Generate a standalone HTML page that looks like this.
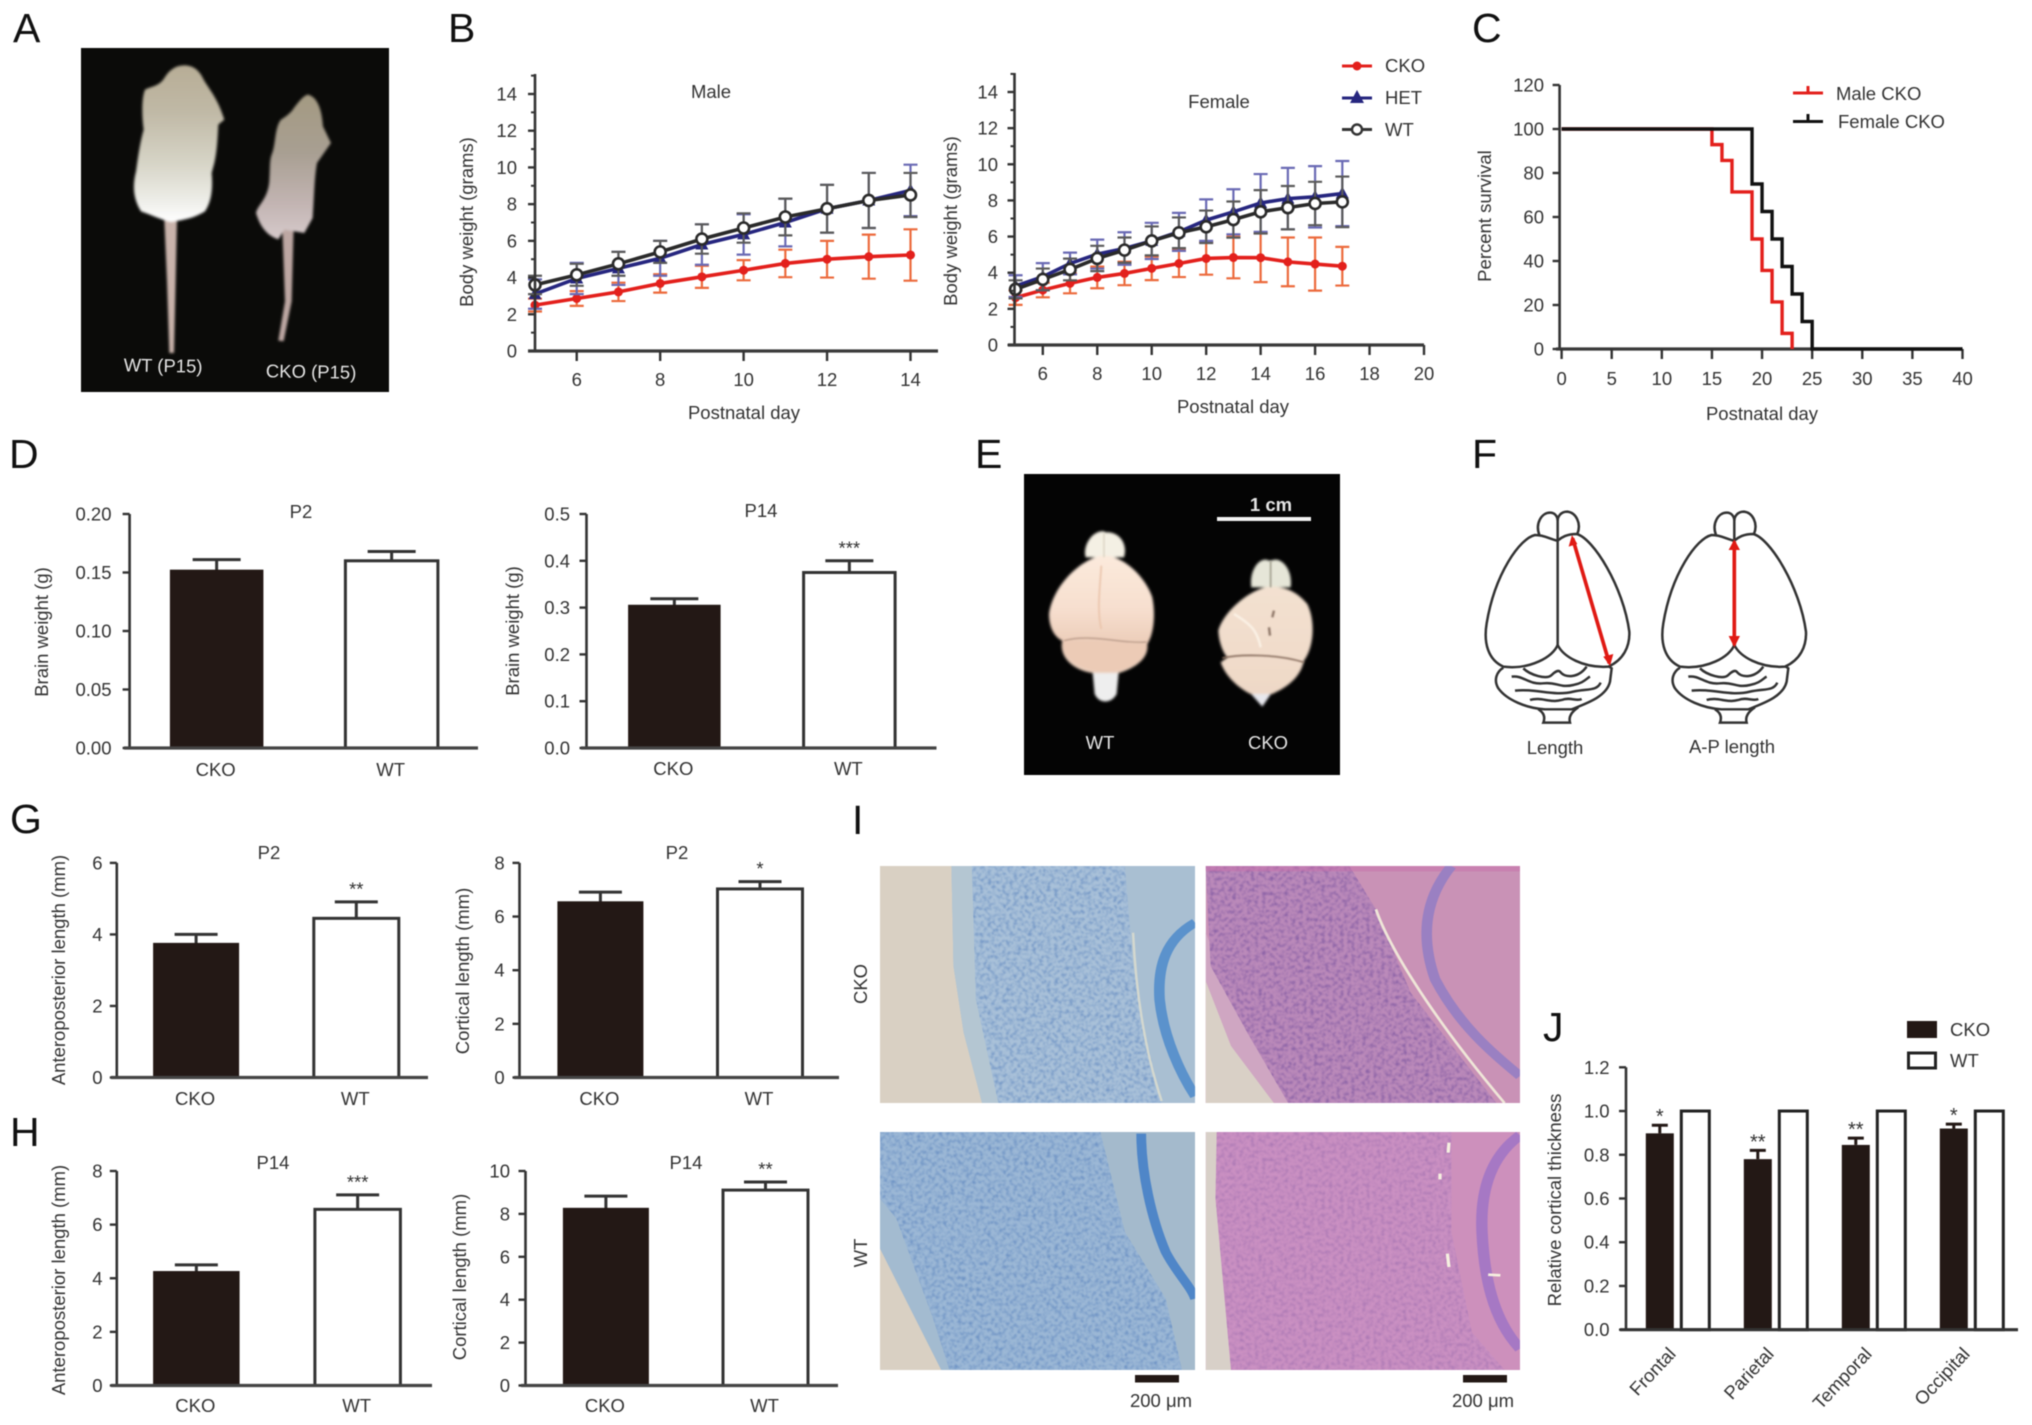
<!DOCTYPE html>
<html lang="en">
<head>
<meta charset="utf-8">
<title>Figure: CKO vs WT mouse phenotype panels</title>
<style>
html,body{margin:0;padding:0;background:#fff;width:2032px;height:1425px;overflow:hidden}
svg{display:block;filter:blur(.6px)}
text{font-family:"Liberation Sans",sans-serif;fill:#333;font-size:18.5px}
.panel{font-size:41px;fill:#111}
.photo-text{fill:#e4e4e4;font-size:18.5px;font-weight:bold}
.photo-thin{fill:#e4e4e4;font-size:18.5px}
</style>
</head>
<body>
<svg id="figure" xmlns="http://www.w3.org/2000/svg" width="2032" height="1425" viewBox="0 0 2032 1425">
<defs>
  <linearGradient id="wtFur" x1="0" y1="0" x2="0" y2="1"><stop offset="0" stop-color="#b7ad96"/><stop offset=".3" stop-color="#c0b9a6"/><stop offset=".62" stop-color="#d6d4c6"/><stop offset=".85" stop-color="#ecece6"/><stop offset="1" stop-color="#ffffff"/></linearGradient>
  <linearGradient id="ckoFur" x1="0" y1="0" x2="0" y2="1"><stop offset="0" stop-color="#a49a82"/><stop offset=".4" stop-color="#a89f92"/><stop offset=".75" stop-color="#c2b4b2"/><stop offset="1" stop-color="#d6cacb"/></linearGradient>
  <linearGradient id="brainWt" x1="0" y1="0" x2="0" y2="1"><stop offset="0" stop-color="#fbeadc"/><stop offset=".45" stop-color="#f7dfcf"/><stop offset=".75" stop-color="#eccdb9"/><stop offset="1" stop-color="#ecd2c0"/></linearGradient>
  <linearGradient id="brainCko" x1="0" y1="0" x2="0" y2="1"><stop offset="0" stop-color="#f3e1d0"/><stop offset=".6" stop-color="#f1dccb"/><stop offset="1" stop-color="#eed8c6"/></linearGradient>
  <filter id="soft" x="-10%" y="-10%" width="120%" height="120%"><feGaussianBlur stdDeviation="4"/></filter>
  <filter id="soft2" x="-10%" y="-10%" width="120%" height="120%"><feGaussianBlur stdDeviation="2.500"/></filter>
  <filter id="speckBlue" x="0" y="0" width="100%" height="100%" color-interpolation-filters="sRGB"><feTurbulence type="fractalNoise" baseFrequency="0.11 0.09" numOctaves="2" seed="7"/><feColorMatrix type="matrix" values="0 0 0 0 0.30  0 0 0 0 0.47  0 0 0 0 0.72  2.4 0 0 0 -1.02"/><feGaussianBlur stdDeviation="1.5"/></filter>
  <filter id="speckPink" x="0" y="0" width="100%" height="100%" color-interpolation-filters="sRGB"><feTurbulence type="fractalNoise" baseFrequency="0.11 0.09" numOctaves="2" seed="11"/><feColorMatrix type="matrix" values="0 0 0 0 0.42  0 0 0 0 0.28  0 0 0 0 0.60  2.4 0 0 0 -1.02"/><feGaussianBlur stdDeviation="1.5"/></filter>
  <clipPath id="clipTL"><rect x="0" y="0" width="772" height="711"/></clipPath>
  <clipPath id="clipTR"><rect x="798" y="0" width="770" height="711"/></clipPath>
  <clipPath id="clipBL"><rect x="0" y="0" width="772" height="714"/></clipPath>
  <clipPath id="clipBR"><rect x="798" y="0" width="770" height="714"/></clipPath>
  <clipPath id="cortexTL"><polygon points="225,0 600,0 620,300 650,500 690,711 290,711 235,400"/></clipPath>
  <clipPath id="cortexTR"><polygon points="798,0 1150,0 1215,130 1300,380 1510,711 1000,711 900,500 810,300"/></clipPath>
  <clipPath id="cortexBL"><polygon points="0,0 540,0 600,300 700,500 740,714 170,714 130,560 40,260 0,200"/></clipPath>
  <clipPath id="cortexBR"><polygon points="825,0 1400,0 1400,300 1450,600 1530,714 860,714 822,200"/></clipPath>
</defs>
<rect width="2032" height="1425" fill="#fff"/>

<!-- panel letters -->
<text class="panel" x="13" y="42">A</text>
<text class="panel" x="448" y="42">B</text>
<text class="panel" x="1472" y="42">C</text>
<text class="panel" x="9" y="468">D</text>
<text class="panel" x="975" y="468">E</text>
<text class="panel" x="1472" y="468">F</text>
<text class="panel" x="10" y="833">G</text>
<text class="panel" x="10" y="1146">H</text>
<text class="panel" x="852" y="834">I</text>
<text class="panel" x="1543" y="1041">J</text>

<!-- Panel A photo -->
<g>
  <rect x="81" y="48" width="308" height="344" fill="#0b0b09"/>
  <g transform="translate(81,48) scale(.3333)">
    <g filter="url(#soft)">
      <path d="M250,515 L288,515 L284,700 L279,915 L265,915 L258,700Z" fill="#c9b3ab"/>
      <path d="M310,52 C335,52 355,65 368,95 C385,125 410,150 430,215 L412,230 C410,270 408,310 400,345 L392,375 C396,420 392,460 372,490 C340,510 310,515 270,522 C240,515 210,500 180,490 C155,450 155,410 165,370 C172,320 178,280 188,245 C182,200 182,150 192,125 C210,115 235,115 250,90 C265,65 285,52 310,52Z" fill="url(#wtFur)"/>
      <path d="M604,540 L638,540 L632,760 L608,880 L592,878 L612,760Z" fill="#bda7a3"/>
      <path d="M680,140 C705,145 722,175 726,235 L750,285 L708,345 C700,390 700,440 695,510 L670,555 L610,545 L592,574 C565,565 540,545 525,495 C530,470 560,455 565,400 C568,360 565,340 572,320 C585,290 580,240 600,215 C615,205 630,195 640,178 C655,160 665,145 680,140Z" fill="url(#ckoFur)"/>
    </g>
  </g>
  <text class="photo-thin" x="163" y="372" text-anchor="middle" transform="rotate(1 163 372)">WT (P15)</text>
  <text class="photo-thin" x="311" y="378" text-anchor="middle" transform="rotate(1 311 378)">CKO (P15)</text>
</g>

<!-- Panel B static text -->
<text x="711" y="98" text-anchor="middle" font-size="18">Male</text>
<text x="473" y="222" text-anchor="middle" transform="rotate(-90 473 222)">Body weight (grams)</text>
<text x="744" y="419" text-anchor="middle">Postnatal day</text>
<text x="1219" y="108" text-anchor="middle">Female</text>
<text x="957" y="221" text-anchor="middle" transform="rotate(-90 957 221)">Body weight (grams)</text>
<text x="1233" y="413" text-anchor="middle">Postnatal day</text>
<g>
  <g>
    <line x1="1342" y1="66" x2="1372" y2="66" stroke="#e3201c" stroke-width="3"/>
    <circle cx="1357" cy="66" r="4.5" fill="#e3201c"/>
    <text x="1385" y="72">CKO</text>
  </g>
  <g>
    <line x1="1342" y1="98" x2="1372" y2="98" stroke="#26267f" stroke-width="3"/>
    <polygon points="1357,90 1364,103 1350,103" fill="#26267f"/>
    <text x="1385" y="104">HET</text>
  </g>
  <g>
    <line x1="1342" y1="129.500" x2="1372" y2="129.500" stroke="#333" stroke-width="3"/>
    <circle cx="1357" cy="129.500" r="5" fill="#fff" stroke="#333" stroke-width="2.4"/>
    <text x="1385" y="136">WT</text>
  </g>
</g>

<!-- Panel C static text -->
<text x="1491" y="216" text-anchor="middle" transform="rotate(-90 1491 216)">Percent survival</text>
<text x="1762" y="420" text-anchor="middle">Postnatal day</text>
<g>
  <path d="M1793,93 H1823 M1808,93 V86" stroke="#e3201c" stroke-width="3" fill="none"/>
  <text x="1836" y="100">Male CKO</text>
  <path d="M1793,121.500 H1823 M1808,121.500 V114" stroke="#111" stroke-width="3" fill="none"/>
  <text x="1838" y="128">Female CKO</text>
</g>

<!-- Panel D static text -->
<text x="301" y="518" text-anchor="middle">P2</text>
<text x="48" y="632" text-anchor="middle" transform="rotate(-90 48 632)">Brain weight (g)</text>
<text x="761" y="517" text-anchor="middle">P14</text>
<text x="519" y="631" text-anchor="middle" transform="rotate(-90 519 631)">Brain weight (g)</text>

<!-- Panel E photo -->
<g>
  <rect x="1024" y="474" width="316" height="301" fill="#040404"/>
  <g transform="translate(1024,474) scale(.3333)">
    <g filter="url(#soft)">
      <path d="M205,585 L212,660 C225,690 262,690 278,660 L285,585Z" fill="#eeeeee"/>
      <path d="M240,172 C205,168 175,215 185,250 L300,250 C312,215 290,172 245,175Z" fill="#f4f0e4"/>
      <path d="M240,245 C190,245 90,320 75,420 C75,470 100,495 115,500 C105,540 135,585 205,597 L285,597 C340,580 375,550 370,510 C390,480 395,420 385,370 C365,310 300,245 240,245Z" fill="url(#brainWt)"/>
      <path d="M115,505 C200,490 290,510 370,510 C365,560 320,590 250,595 C180,595 120,560 115,505Z" fill="#eccbb6"/>
      <path d="M672,650 L715,698 L748,650Z" fill="#e8e8ee"/>
      <path d="M735,260 C710,245 675,285 682,340 L800,340 C808,285 770,245 742,260Z" fill="#e6e6d8"/>
      <path d="M735,338 C680,345 600,410 583,470 C585,510 600,540 610,550 L590,565 C610,620 660,650 680,660 L745,660 C790,640 830,610 840,560 C870,520 875,440 850,390 C820,355 790,338 735,338Z" fill="url(#brainCko)"/>
    </g>
    <g filter="url(#soft2)" fill="none">
      <path d="M232,275 C228,340 218,410 232,465" stroke="#eac4ab" stroke-width="5"/>
      <path d="M240,178 L240,250" stroke="#d8d2c0" stroke-width="4"/>
      <path d="M120,500 C200,478 290,510 368,504" stroke="#b89a88" stroke-width="4"/>
      <path d="M740,262 L740,340" stroke="#a09c8c" stroke-width="5"/>
      <path d="M595,552 C650,540 760,540 840,565" stroke="#8a7060" stroke-width="5"/>
      <path d="M750,410 L745,430 M735,460 L738,485" stroke="#8c7466" stroke-width="7"/>
      <path d="M630,420 C680,450 700,470 710,520" stroke="#fbf2e6" stroke-width="7"/>
    </g>
  </g>
  <line x1="1217" y1="519" x2="1311" y2="519" stroke="#f2f2f2" stroke-width="4"/>
  <text class="photo-text" x="1271" y="511" text-anchor="middle">1 cm</text>
  <text class="photo-thin" x="1100" y="749" text-anchor="middle">WT</text>
  <text class="photo-thin" x="1268" y="749" text-anchor="middle">CKO</text>
</g>

<!-- Panel F schematics -->
<g transform="translate(1470,500) scale(.3333)" fill="none" stroke="#333" stroke-width="7.500">
  <g>
    <path d="M208,105 C195,70 215,38 240,38 C255,38 263,50 263,62 C263,50 272,35 292,35 C318,38 335,70 322,102"/>
    <path d="M263,50 L263,435"/>
    <path d="M263,122 C240,118 225,105 195,105 C150,115 75,220 50,370 C40,430 55,480 100,500 C180,510 250,470 263,435"/>
    <path d="M263,122 C275,112 290,102 320,102 C370,115 460,260 478,395 C480,440 460,480 415,500 C340,505 280,470 263,435"/>
    <path d="M100,503 C80,515 70,540 85,565 C110,600 170,625 225,628 L305,628 C350,610 410,590 420,545 L425,505 L415,498"/>
    <path d="M160,505 C180,525 230,540 245,525 C255,515 265,510 270,515 C285,535 325,535 350,500"/>
    <path d="M125,530 C160,525 175,555 220,550 C260,545 270,565 310,555 C340,550 350,535 360,530 M135,572 C200,565 250,590 310,575 C350,565 380,575 392,548 M180,600 C215,590 240,610 275,600 C300,590 320,605 335,597"/>
    <path d="M205,628 C225,640 225,655 220,668 L300,668 C295,650 305,635 325,622"/>
  </g>
  <g transform="translate(530,0)">
    <path d="M208,105 C195,70 215,38 240,38 C255,38 263,50 263,62 C263,50 272,35 292,35 C318,38 335,70 322,102"/>
    <path d="M263,50 L263,122"/>
    <path d="M263,122 C240,118 225,105 195,105 C150,115 75,220 50,370 C40,430 55,480 100,500 C180,510 250,470 263,435"/>
    <path d="M263,122 C275,112 290,102 320,102 C370,115 460,260 478,395 C480,440 460,480 415,500 C340,505 280,470 263,435"/>
    <path d="M100,503 C80,515 70,540 85,565 C110,600 170,625 225,628 L305,628 C350,610 410,590 420,545 L425,505 L415,498"/>
    <path d="M160,505 C180,525 230,540 245,525 C255,515 265,510 270,515 C285,535 325,535 350,500"/>
    <path d="M125,530 C160,525 175,555 220,550 C260,545 270,565 310,555 C340,550 350,535 360,530 M135,572 C200,565 250,590 310,575 C350,565 380,575 392,548 M180,600 C215,590 240,610 275,600 C300,590 320,605 335,597"/>
    <path d="M205,628 C225,640 225,655 220,668 L300,668 C295,650 305,635 325,622"/>
  </g>
  <path d="M308,115 L418,490" stroke="#e01a14" stroke-width="11"/>
  <path d="M306,105 L296,140 L322,132Z M420,498 L400,470 L430,462Z" fill="#e01a14" stroke="none"/>
  <path d="M793,125 L793,435" stroke="#e01a14" stroke-width="11"/>
  <path d="M793,118 L776,150 L810,150Z M793,442 L776,408 L810,408Z" fill="#e01a14" stroke="none"/>
</g>
<text x="1555" y="754" text-anchor="middle">Length</text>
<text x="1732" y="753" text-anchor="middle">A-P length</text>

<!-- Panel G and H static text -->
<text x="269" y="859" text-anchor="middle">P2</text>
<text x="65" y="970" text-anchor="middle" transform="rotate(-90 65 970)">Anteroposterior length (mm)</text>
<text x="677" y="859" text-anchor="middle">P2</text>
<text x="469" y="971" text-anchor="middle" transform="rotate(-90 469 971)">Cortical length (mm)</text>
<text x="273" y="1169" text-anchor="middle">P14</text>
<text x="65" y="1280" text-anchor="middle" transform="rotate(-90 65 1280)">Anteroposterior length (mm)</text>
<text x="686" y="1169" text-anchor="middle">P14</text>
<text x="466" y="1277" text-anchor="middle" transform="rotate(-90 466 1277)">Cortical length (mm)</text>

<!-- Panel I histology -->
<g transform="translate(880,866) scale(.40816,.33333)">
  <g clip-path="url(#clipTL)">
    <rect x="0" y="0" width="772" height="711" fill="#a9bfd2"/>
    <polygon points="0,0 175,0 180,300 205,500 250,711 0,711" fill="#d9d0c3"/>
    <polygon points="175,0 225,0 235,400 290,711 250,711 205,500 180,300" fill="#b4c6d2"/>
    <polygon points="225,0 600,0 620,300 650,500 690,711 290,711 235,400" fill="#a9c1d9"/>
    <rect x="0" y="0" width="772" height="711" filter="url(#speckBlue)" clip-path="url(#cortexTL)" opacity=".6"/>
    <path d="M620,200 C625,330 640,520 690,705" stroke="#d4d8cf" stroke-width="6" fill="none"/>
    <path d="M772,170 C700,220 680,300 685,400 C695,520 740,630 772,690" stroke="#5b92cc" stroke-width="26" fill="none"/>
  </g>
  <g clip-path="url(#clipTR)">
    <rect x="798" y="0" width="770" height="711" fill="#c992b6"/>
    <polygon points="798,200 900,500 1050,711 798,711" fill="#cfa6c2"/>
    <polygon points="798,345 860,540 965,711 798,711" fill="#d9d0c6"/>
    <polygon points="798,0 1150,0 1215,130 1300,380 1510,711 1000,711 900,500 810,300" fill="#bb8aba"/>
    <rect x="798" y="0" width="770" height="711" filter="url(#speckPink)" clip-path="url(#cortexTR)" opacity=".6"/>
    <rect x="798" y="0" width="770" height="16" fill="#c870aa" opacity=".5"/>
    <path d="M1215,130 C1240,220 1330,420 1530,711" stroke="#efe6d8" stroke-width="7" fill="none"/>
    <path d="M1400,0 C1340,90 1320,200 1360,340 C1420,480 1500,560 1568,630" stroke="#9a80c2" stroke-width="26" fill="none"/>
  </g>
</g>
<g transform="translate(880,1132) scale(.40816,.33333)">
  <g clip-path="url(#clipBL)">
    <rect x="0" y="0" width="772" height="714" fill="#a4bacc"/>
    <polygon points="0,0 540,0 600,300 700,500 740,714 170,714 130,560 40,260 0,200" fill="#9cb8d6"/>
    <polygon points="0,200 40,260 130,560 170,714 150,714 0,350" fill="#a3bbd0"/>
    <polygon points="0,350 150,714 0,714" fill="#d9d0c3"/>
    <rect x="0" y="0" width="772" height="714" filter="url(#speckBlue)" clip-path="url(#cortexBL)" opacity=".6"/>
    <path d="M640,5 C640,120 665,260 700,360 C725,420 760,460 772,500" stroke="#4f86c8" stroke-width="24" fill="none"/>
  </g>
  <g clip-path="url(#clipBR)">
    <rect x="798" y="0" width="770" height="714" fill="#cd90bc"/>
    <polygon points="825,0 1400,0 1400,300 1450,600 1530,714 860,714 822,200" fill="#ca90c2"/>
    <polygon points="798,0 825,0 822,200 860,714 798,714" fill="#d8d0c8"/>
    <rect x="798" y="0" width="770" height="714" filter="url(#speckPink)" clip-path="url(#cortexBR)" opacity=".3"/>
    <path d="M1568,10 C1500,70 1470,170 1475,300 C1480,430 1500,560 1568,650" stroke="#a678c4" stroke-width="28" fill="none"/>
    <path d="M1394,32 L1392,62 M1372,125 L1372,142 M1390,365 L1394,405 M1490,428 L1520,430" stroke="#f6f0e0" stroke-width="8" fill="none"/>
  </g>
</g>
<text x="867" y="984" text-anchor="middle" transform="rotate(-90 867 984)">CKO</text>
<text x="867" y="1253" text-anchor="middle" transform="rotate(-90 867 1253)">WT</text>
<rect x="1135" y="1375" width="44" height="7.500" fill="#231815"/>
<rect x="1463" y="1375" width="44" height="7.500" fill="#231815"/>
<text x="1161" y="1407" text-anchor="middle">200 μm</text>
<text x="1483" y="1407" text-anchor="middle">200 μm</text>

<!-- Panel J static text -->
<text x="1561" y="1200" text-anchor="middle" transform="rotate(-90 1561 1200)">Relative cortical thickness</text>
<g>
  <rect x="1907" y="1021" width="30" height="17" fill="#231815"/>
  <text x="1950" y="1036">CKO</text>
  <rect x="1908.500" y="1053" width="27" height="15" fill="#fff" stroke="#222" stroke-width="3"/>
  <text x="1950" y="1067">WT</text>
</g>
<g id="charts"></g>
</svg>

<script>
/* ---------- Panel B: male body weight ---------- */
const maleDays = [5,6,7,8,9,10,11,12,13,14];
const maleCko = [2.5,2.86,3.22,3.68,4.04,4.4,4.77,5.0,5.14,5.23];
const maleCkoErr = [0.35,0.4,0.5,0.5,0.6,0.55,0.75,1.0,1.2,1.4];
const maleHet = [3.1,3.95,4.5,5.05,5.8,6.35,7.0,7.75,8.2,8.75];
const maleHetErr = [0.8,0.85,0.9,0.95,1.1,1.1,1.3,1.3,1.5,1.4];
const maleWt = [3.6,4.15,4.75,5.4,6.1,6.7,7.3,7.75,8.2,8.5];
const maleWtErr = [0.5,0.6,0.65,0.6,0.8,0.8,1.0,1.3,1.5,1.2];
const maleXTicks = ['6','8','10','12','14'];
const maleYTicks = ['0','2','4','6','8','10','12','14'];

/* ---------- Panel B: female body weight ---------- */
const femaleDays = [5,6,7,8,9,10,11,12,13,14,15,16,17];
const femaleCko = [2.62,3.04,3.41,3.74,3.96,4.24,4.51,4.79,4.84,4.83,4.6,4.48,4.36];
const femaleCkoErr = [0.4,0.4,0.55,0.6,0.65,0.65,0.75,0.9,1.15,1.35,1.35,1.47,1.07];
const femaleHet = [3.26,3.78,4.51,5.03,5.34,5.76,6.26,6.91,7.37,7.86,8.1,8.2,8.38];
const femaleHetErr = [0.6,0.75,0.6,0.8,0.9,1.0,1.05,1.15,1.25,1.6,1.7,1.7,1.8];
const femaleWt = [3.08,3.63,4.18,4.79,5.25,5.76,6.21,6.54,6.94,7.37,7.6,7.83,7.92];
const femaleWtErr = [0.5,0.6,0.6,0.7,0.7,0.8,0.85,0.9,1.0,1.2,1.2,1.2,1.4];
const femaleXTicks = ['6','8','10','12','14','16','18','20'];
const femaleYTicks = ['0','2','4','6','8','10','12','14'];

/* ---------- Panel C: survival ---------- */
const survivalMaleDays = [0,15,16,17,19,20,21,22,23];
const survivalMalePct = [100,92.9,85.7,71.4,50,35.7,21.4,7.1,0];
const survivalFemaleDays = [0,19,20,21,22,23,24,25,40];
const survivalFemalePct = [100,75,62.5,50,37.5,25,12.5,0,0];
const survivalXTicks = ['0','5','10','15','20','25','30','35','40'];
const survivalYTicks = ['0','20','40','60','80','100','120'];

/* ---------- Panels D, G, H: two-bar charts ---------- */
const barCategories = ['CKO','WT'];
const dP2Values = [0.152,0.160];
const dP2Tops = [0.161,0.168];
const dP2Stars = ['',''];
const dP2Ticks = ['0.00','0.05','0.10','0.15','0.20'];
const dP14Values = [0.305,0.375];
const dP14Tops = [0.319,0.400];
const dP14Stars = ['','***'];
const dP14Ticks = ['0.0','0.1','0.2','0.3','0.4','0.5'];
const gApValues = [3.75,4.45];
const gApTops = [4.0,4.91];
const gApStars = ['','**'];
const gApTicks = ['0','2','4','6'];
const gCortValues = [6.55,7.03];
const gCortTops = [6.91,7.3];
const gCortStars = ['','*'];
const gCortTicks = ['0','2','4','6','8'];
const hApValues = [4.25,6.57];
const hApTops = [4.5,7.11];
const hApStars = ['','***'];
const hApTicks = ['0','2','4','6','8'];
const hCortValues = [8.26,9.11];
const hCortTops = [8.83,9.49];
const hCortStars = ['','**'];
const hCortTicks = ['0','2','4','6','8','10'];

/* ---------- Panel J: relative cortical thickness ---------- */
const jRegions = ['Frontal','Parietal','Temporal','Occipital'];
const jCko = [0.898,0.78,0.845,0.92];
const jCkoTops = [0.935,0.82,0.876,0.94];
const jWt = [1,1,1,1];
const jStars = ['*','**','**','*'];
const jTicks = ['0.0','0.2','0.4','0.6','0.8','1.0','1.2'];

const NS = 'http://www.w3.org/2000/svg';
const root = document.getElementById('charts');

function el(tag, attrs, parent, content) {
  const node = document.createElementNS(NS, tag);
  for (const k in attrs) node.setAttribute(k, attrs[k]);
  if (content !== undefined) node.textContent = content;
  parent.appendChild(node);
  return node;
}
function linear(d0, d1, r0, r1) {
  return v => r0 + (v - d0) * (r1 - r0) / (d1 - d0);
}

function drawYAxis(parent, prefix, y, a, labels, minorStep) {
  const line = el('line', {x1:a.x, x2:a.x, y1:a.top, y2:a.bottom, stroke:'#333', 'stroke-width':2.6}, parent);
  
  
  labels.forEach(lab => {
    const v = parseFloat(lab);
    const tick = el('line', {x1:a.x - 7, x2:a.x, y1:y(v), y2:y(v), stroke:'#333', 'stroke-width':2.4}, parent);
    
    
    const text = el('text', {x:a.labelRight, y:y(v) + 6.5, 'text-anchor':'end'}, parent, lab);
    
    
  });
  if (minorStep) {
    const maxV = parseFloat(labels[labels.length - 1]) + minorStep;
    for (let v = minorStep; v <= maxV; v += 2 * minorStep) {
      const minor = el('line', {x1:a.x - 4, x2:a.x, y1:y(v), y2:y(v), stroke:'#333', 'stroke-width':2}, parent);
      
      
    }
  }
}

function drawXAxis(parent, prefix, x, a, labels) {
  const line = el('line', {x1:a.start, x2:a.end, y1:a.y, y2:a.y, stroke:'#3a3a3a', 'stroke-width':3.2}, parent);
  
  
  labels.forEach(lab => {
    const v = parseFloat(lab);
    const tick = el('line', {x1:x(v), x2:x(v), y1:a.y, y2:a.y + 10, stroke:'#333', 'stroke-width':2.4}, parent);
    
    
    const text = el('text', {x:x(v), y:a.labelY, 'text-anchor':'middle'}, parent, lab);
    
    
  });
}

function drawMarker(parent, prefix, kind, cx, cy, color) {
  if (kind === 'triangle') {
    const tri = el('polygon', {points:`${cx},${cy - 7} ${cx + 6.5},${cy + 5} ${cx - 6.5},${cy + 5}`, fill:color}, parent);
    
    
  } else if (kind === 'open') {
    const open = el('circle', {cx:cx, cy:cy, r:5.5, fill:'#fff', stroke:color, 'stroke-width':2.6}, parent);
    
    
  } else {
    const dot = el('circle', {cx:cx, cy:cy, r:4.5, fill:color}, parent);
    
    
  }
}

function drawSeries(parent, prefix, days, values, errs, x, y, style) {
  const capHalf = 7;
  days.forEach((d, i) => {
    const px = x(d), up = y(values[i] + errs[i]), down = y(values[i] - errs[i]);
    const eb = el('path', {d:`M${px},${up} V${down} M${px - capHalf},${up} H${px + capHalf} M${px - capHalf},${down} H${px + capHalf}`, fill:'none', stroke:style.errColor, 'stroke-width':2.2}, parent);
    
    
  });
  const pts = days.map((d, i) => x(d) + ',' + y(values[i])).join(' ');
  const line = el('polyline', {points:pts, fill:'none', stroke:style.color, 'stroke-width':3.6}, parent);
  
  
  days.forEach((d, i) => drawMarker(parent, prefix, style.marker, x(d), y(values[i]), style.color));
}

const CKO_STYLE = {color:'#e3201c', errColor:'#ec6a3c', marker:'dot'};
const HET_STYLE = {color:'#26267f', errColor:'#6a6ab4', marker:'triangle'};
const WT_STYLE = {color:'#2a2a2a', errColor:'#5a5a5a', marker:'open'};

function drawWeightChart(prefix, L, days, cko, ckoErr, het, hetErr, wt, wtErr, xTicks, yTicks) {
  const g = el('g', {}, root);
  
  
  const x = linear(L.xd0, L.xd1, L.xr0, L.xr1);
  const y = linear(0, 14, L.y0, L.y14);
  drawSeries(g, prefix + '-cko', days, cko, ckoErr, x, y, CKO_STYLE);
  drawSeries(g, prefix + '-het', days, het, hetErr, x, y, HET_STYLE);
  drawSeries(g, prefix + '-wt', days, wt, wtErr, x, y, WT_STYLE);
  drawYAxis(g, prefix, y, {x:L.axisX, top:L.top, bottom:L.y0, labelRight:L.labelRight}, yTicks, 1);
  drawXAxis(g, prefix, x, {start:L.xStart, end:L.xEnd, y:L.y0, labelY:L.xLabelY}, xTicks);
}

function stepPath(days, pct, x, y) {
  let d = `M${x(days[0])},${y(pct[0])}`;
  for (let i = 1; i < days.length; i++) {
    d += ` H${x(days[i])} V${y(pct[i])}`;
  }
  return d;
}

function drawSurvival(L) {
  const g = el('g', {}, root);
  
  
  const x = linear(0, 40, L.x0, L.x40);
  const y = linear(0, 120, L.y0, L.y120);
  drawYAxis(g, 'survival', y, {x:L.axisX, top:L.y120, bottom:L.y0, labelRight:L.labelRight}, survivalYTicks, 0);
  drawXAxis(g, 'survival', x, {start:L.xStart, end:L.x40, y:L.y0, labelY:L.xLabelY}, survivalXTicks);
  const male = el('path', {d:stepPath(survivalMaleDays, survivalMalePct, x, y), fill:'none', stroke:'#e3201c', 'stroke-width':3.4}, g);
  
  
  const female = el('path', {d:stepPath(survivalFemaleDays, survivalFemalePct, x, y), fill:'none', stroke:'#111', 'stroke-width':3.4}, g);
  
  
}

function drawBarChart(prefix, L, categories, values, tops, stars, ticks) {
  const g = el('g', {}, root);
  
  
  const yMax = parseFloat(ticks[ticks.length - 1]);
  const y = linear(0, yMax, L.y0, L.yTop);
  const band = i => L.bar0 + i * L.step;
  categories.forEach((cat, i) => {
    const left = band(i), mid = left + L.barW / 2;
    const filled = i === 0;
    const err = el('path', {d:`M${mid},${y(values[i])} V${y(tops[i])} M${mid - L.capW / 2},${y(tops[i])} H${mid + L.capW / 2}`, fill:'none', stroke:'#333', 'stroke-width':3}, g);
    
    
    const bar = el('rect', {x:left, y:y(values[i]), width:L.barW, height:L.y0 - y(values[i]), fill:filled ? '#231815' : '#fff', stroke:filled ? '#231815' : '#333', 'stroke-width':filled ? 1 : 3}, g);
    
    
    const label = el('text', {x:mid - 1, y:L.catY, 'text-anchor':'middle'}, g, cat);
    
    
    if (stars[i]) {
      const star = el('text', {x:mid, y:y(tops[i]) - 6.5, 'text-anchor':'middle'}, g, stars[i]);
      
      
    }
  });
  drawYAxis(g, prefix, y, {x:L.axisX, top:L.yTop, bottom:L.y0, labelRight:L.labelRight}, ticks, 0);
  const axis = el('line', {x1:L.xStart, x2:L.xEnd, y1:L.y0, y2:L.y0, stroke:'#444', 'stroke-width':3.2}, g);
  
  
}

function drawThickness(L) {
  const g = el('g', {}, root);
  
  
  const y = linear(0, 1.2, L.y0, L.yTop);
  const band = i => L.bar0 + i * L.step;
  jRegions.forEach((region, i) => {
    const left = band(i), mid = left + L.barW / 2, wtLeft = left + L.wtOffset;
    const err = el('path', {d:`M${mid},${y(jCko[i])} V${y(jCkoTops[i])} M${mid - 8},${y(jCkoTops[i])} H${mid + 8}`, fill:'none', stroke:'#231815', 'stroke-width':3}, g);
    
    
    const bar = el('rect', {x:left, y:y(jCko[i]), width:L.barW, height:L.y0 - y(jCko[i]), fill:'#231815'}, g);
    
    
    const wt = el('rect', {x:wtLeft, y:y(jWt[i]), width:L.barW, height:L.y0 - y(jWt[i]), fill:'#fff', stroke:'#222', 'stroke-width':3}, g);
    
    
    const star = el('text', {x:mid, y:y(jCkoTops[i]) - 2, 'text-anchor':'middle', style:'font-size:20px'}, g, jStars[i]);
    
    
    const lx = left + 31, ly = L.y0 + 25;
    const label = el('text', {x:lx, y:ly, 'text-anchor':'end', transform:`rotate(-47 ${lx} ${ly})`}, g, region);
    
    
  });
  drawYAxis(g, 'thickness', y, {x:L.axisX, top:L.yTop, bottom:L.y0, labelRight:L.labelRight}, jTicks, 0);
  const axis = el('line', {x1:L.xStart, x2:L.xEnd, y1:L.y0, y2:L.y0, stroke:'#333', 'stroke-width':3.2}, g);
  
  
}

drawWeightChart('male', {xd0:5, xd1:14, xr0:535, xr1:910.5, y0:351, y14:94, axisX:535, top:74, labelRight:517, xStart:528, xEnd:938, xLabelY:386}, maleDays, maleCko, maleCkoErr, maleHet, maleHetErr, maleWt, maleWtErr, maleXTicks, maleYTicks);
drawWeightChart('female', {xd0:6, xd1:20, xr0:1042.8, xr1:1424, y0:345, y14:92, axisX:1014.5, top:73, labelRight:998, xStart:1008, xEnd:1424, xLabelY:380}, femaleDays, femaleCko, femaleCkoErr, femaleHet, femaleHetErr, femaleWt, femaleWtErr, femaleXTicks, femaleYTicks);
drawSurvival({x0:1561.6, x40:1962.5, y0:349, y120:85, axisX:1559.6, labelRight:1544, xStart:1556, xLabelY:385});

drawBarChart('d-p2', {axisX:129.6, y0:748, yTop:514, labelRight:111.5, xStart:124, xEnd:478, bar0:170.4, step:175, barW:92.5, capW:48, catY:776}, barCategories, dP2Values, dP2Tops, dP2Stars, dP2Ticks);
drawBarChart('d-p14', {axisX:586.5, y0:748, yTop:514, labelRight:570, xStart:581, xEnd:936.5, bar0:628.6, step:175, barW:91.5, capW:48, catY:775}, barCategories, dP14Values, dP14Tops, dP14Stars, dP14Ticks);
drawBarChart('g-ap', {axisX:116.8, y0:1077.5, yTop:862.9, labelRight:102.6, xStart:111, xEnd:428, bar0:153.6, step:160.2, barW:85, capW:43, catY:1105}, barCategories, gApValues, gApTops, gApStars, gApTicks);
drawBarChart('g-cortical', {axisX:519.5, y0:1077.5, yTop:862.9, labelRight:504.7, xStart:514, xEnd:839, bar0:557.9, step:159.6, barW:85, capW:43, catY:1105}, barCategories, gCortValues, gCortTops, gCortStars, gCortTicks);
drawBarChart('h-ap', {axisX:116.8, y0:1385.5, yTop:1171, labelRight:102.6, xStart:111, xEnd:432, bar0:153.6, step:161.3, barW:85.500, capW:43, catY:1412}, barCategories, hApValues, hApTops, hApStars, hApTicks);
drawBarChart('h-cortical', {axisX:525.5, y0:1385.5, yTop:1171, labelRight:510, xStart:521, xEnd:838, bar0:563.4, step:159.6, barW:85, capW:43, catY:1412}, barCategories, hCortValues, hCortTops, hCortStars, hCortTicks);

drawThickness({axisX:1626, y0:1329.7, yTop:1067.3, labelRight:1609.6, xStart:1620, xEnd:2018, bar0:1645.8, step:98, barW:28, wtOffset:35.5});
</script>
</body>
</html>
